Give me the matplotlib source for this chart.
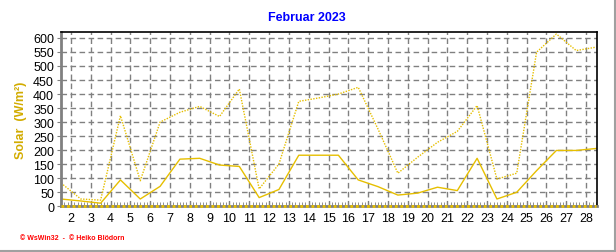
import matplotlib
matplotlib.use("Agg")
import matplotlib.pyplot as plt
from matplotlib.lines import Line2D
import numpy as np

plt.rcParams['font.family'] = ['Liberation Sans', 'DejaVu Sans']

# daily solar values, Februar 2023 (W/m²)
days = list(range(1, 29))
solar_mean = [26, 19, 11, 94, 26, 71, 168, 171, 147, 142, 31, 60, 182, 182,
              182, 94, 70, 40, 47, 68, 56, 171, 26, 50, 127, 199, 199, 206]
solar_max = [83, 26, 22, 323, 91, 300, 335, 356, 320, 418, 62, 151, 374, 386,
             400, 424, 275, 118, 175, 228, 267, 359, 97, 118, 549, 614, 555, 567]
solar_min = [0] * 28

line_col = '#e6bf00'

fig = plt.figure(figsize=(6.16, 2.53), dpi=100)
ax = fig.add_axes([61 / 616, 1 - 207.3 / 253, (597 - 61) / 616, (207.3 - 33.3) / 253])

x = np.array(days) + 0.5
ax.plot(x, solar_max, color=line_col, lw=1, ls=(0, (1, 1)))
ax.plot(x, solar_mean, color=line_col, lw=1)
ax.plot(x, solar_min, color=line_col, lw=2, ls=(0, (1, 1)), clip_on=False, zorder=5)

ax.set_xlim(1.5, 28.55)
ax.set_ylim(0, 620)
ax.set_xticks(range(2, 29))
ax.set_xticks(np.arange(1.5, 28.6, 1 / 6), minor=True)
ax.set_yticks(range(0, 601, 50))
ax.grid(True, color='#808080', ls=(0, (4, 2.5)), lw=1)

ax.tick_params(axis='both', labelsize=9, colors='black', length=0, pad=4)
ax.tick_params(axis='y', length=3, color='#808080', direction='out', pad=2)
ax.tick_params(axis='x', which='minor', length=3, color='#808080', direction='in')
ax.tick_params(axis='x', which='major', length=3, color='#808080', direction='in')

ax.spines['left'].set_color('#808080')
ax.spines['left'].set_linewidth(2)
ax.spines['bottom'].set_color('#808080')
ax.spines['bottom'].set_linewidth(2)
ax.spines['top'].set_color('black')
ax.spines['right'].set_color('black')
ax.spines['top'].set_linewidth(1.2)
ax.spines['right'].set_linewidth(1.2)

ax.set_ylabel('Solar  (W/m²)', color='#d2ac00', fontsize=9, fontweight='bold')
ax.yaxis.set_label_coords((27 - 61) / 536, 0.5)
fig.text(307 / 616, 1 - 18 / 253, 'Februar 2023', color='#0000ff', fontsize=9,
         fontweight='bold', ha='center', va='center')
fig.text(20 / 616, 1 - 239 / 253, '© WsWin32  -  © Heiko Blödorn', color='#ff0000',
         fontsize=5, fontweight='bold', ha='left', va='center')

# window frame
fig.add_artist(Line2D([0, 1], [1 - 251.5 / 253] * 2, color='#a0a0a0', lw=1.5))
fig.add_artist(Line2D([1 - 1.5 / 616] * 2, [0, 1], color='#a0a0a0', lw=1.5))

fig.savefig('out.png', dpi=100)
